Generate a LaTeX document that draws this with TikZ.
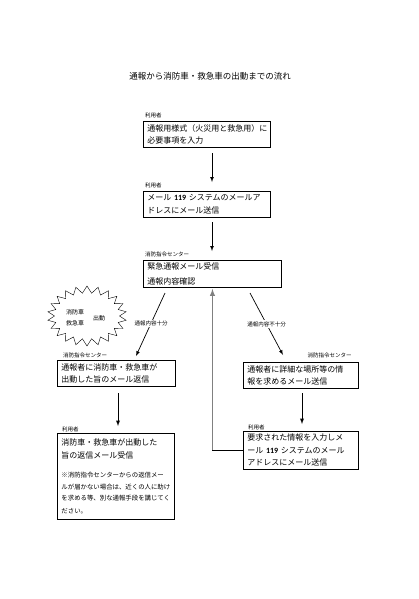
\documentclass[tikz,border=0pt]{standalone}
\usepackage{fontspec}
\setmainfont{Noto Sans CJK JP}
\newfontfamily\numfont{Carlito}
\usepackage{tikz}
\usetikzlibrary{positioning, shapes.symbols}
\tikzset{ box/.style = {draw, line width=0.9pt, anchor=north west, align=left, inner xsep=4pt, inner ysep=1pt, font=\fontsize{8}{12.5}\selectfont},
  who/.style = {inner sep=0pt, font=\fontsize{5.5}{6}\selectfont},
  tag/.style = {fill=white, inner sep=1pt, font=\fontsize{5.5}{6}\selectfont} }
\newcommand{\num}[1]{{\numfont\bfseries #1}}

\begin{document}
\begin{tikzpicture}[x=1pt, y=-1pt, >=latex]
  \useasboundingbox[fill=white] (0,0) rectangle (419,599);
  \node[font=\fontsize{8.5}{10}\selectfont] (title) at (210,76) {通報から消防車・救急車の出動までの流れ};

  % citizen side
  \node[box, text width=119pt, minimum height=26pt] (form) at (143,121) {通報用様式（火災用と救急用）に\\必要事項を入力};
  \node[who, above right=3pt and 2pt of form.north west, anchor=south west] {利用者};
  \node[box, text width=119pt, minimum height=26pt] (send) at (143,191) {メール \num{119} システムのメールア\\ドレスにメール送信};
  \node[who, above right=3pt and 2pt of send.north west, anchor=south west] {利用者};

  % command center
  \node[box, text width=130pt, minimum height=27pt, font=\fontsize{8}{15.5}\selectfont] (recv) at (143,260) {緊急通報メール受信\\通報内容確認};
  \node[who, above right=3pt and 2pt of recv.north west, anchor=south west] {消防指令センター};

  \node[draw, starburst, starburst points=22, starburst point height=7pt, random starburst=0, minimum width=79pt, minimum height=60pt] (burst) at (87,316) {};
  \node[align=center, font=\fontsize{6}{11}\selectfont] (car) at (75,318) {消防車\\救急車};
  \node[font=\fontsize{6}{7}\selectfont, right=2pt of car] (go) {出動};

  \node[box, text width=110pt, minimum height=26pt] (okmsg) at (57,360) {通報者に消防車・救急車が\\出動した旨のメール返信};
  \node[who, above right=2pt and 6pt of okmsg.north west, anchor=south west] {消防指令センター};
  \node[box, text width=109pt, minimum height=86pt, anchor=north west] (okrecv) at (57,433) {消防車・救急車が出動した\\旨の返信メール受信\\[8pt]
    {\fontsize{6.4}{11.5}\selectfont ※消防指令センターからの返信メー\\ルが届かない場合は、近くの人に助け\\を求める等、別な通報手段を講じてく\\ださい。}};
  \node[who, above right=1pt and 5pt of okrecv.north west, anchor=south west] {利用者};

  \node[box, text width=107pt, minimum height=26pt] (ask) at (243,362) {通報者に詳細な場所等の情\\報を求めるメール送信};
  \node[who, above left=4pt and 7pt of ask.north east, anchor=south east] {消防指令センター};
  \node[box, text width=107pt, minimum height=38pt] (reply) at (243,431) {要求された情報を入力しメ\\ール \num{119} システムのメール\\アドレスにメール送信};
  \node[who, above right=1pt and 5pt of reply.north west, anchor=south west] {利用者};

  \coordinate (a1) at (212,153);  \coordinate (b1) at (212,182);
  \coordinate (a2) at (212,222);  \coordinate (b2) at (212,251);
  \coordinate (a3) at (165,293);  \coordinate (b3) at (136,356);
  \coordinate (a4) at (250,293);  \coordinate (b4) at (283,355);
  \coordinate (a5) at (118,393);  \coordinate (b5) at (118,426);
  \coordinate (a6) at (302,393);  \coordinate (b6) at (302,424);
  \coordinate (turn) at (reply.west -| recv.south);

  \draw[->, line width=0.7pt] (a1) -- (b1);
  \draw[->, line width=0.7pt] (a2) -- (b2);
  \draw[->, line width=0.7pt] (a3) -- node[tag, pos=.48] {通報内容十分} (b3);
  \draw[->, line width=0.7pt] (a4) -- node[tag, pos=.5] {通報内容不十分} (b4);
  \draw[->, line width=0.9pt] (a5) -- (b5);
  \draw[->, line width=0.9pt] (a6) -- (b6);
  \draw[->, line width=1.4pt, gray] (turn) -- ([yshift=-1pt]recv.south);
  \draw[line width=0.9pt] (reply.west) -- ([xshift=-0.7pt]turn);
\end{tikzpicture}
\end{document}
